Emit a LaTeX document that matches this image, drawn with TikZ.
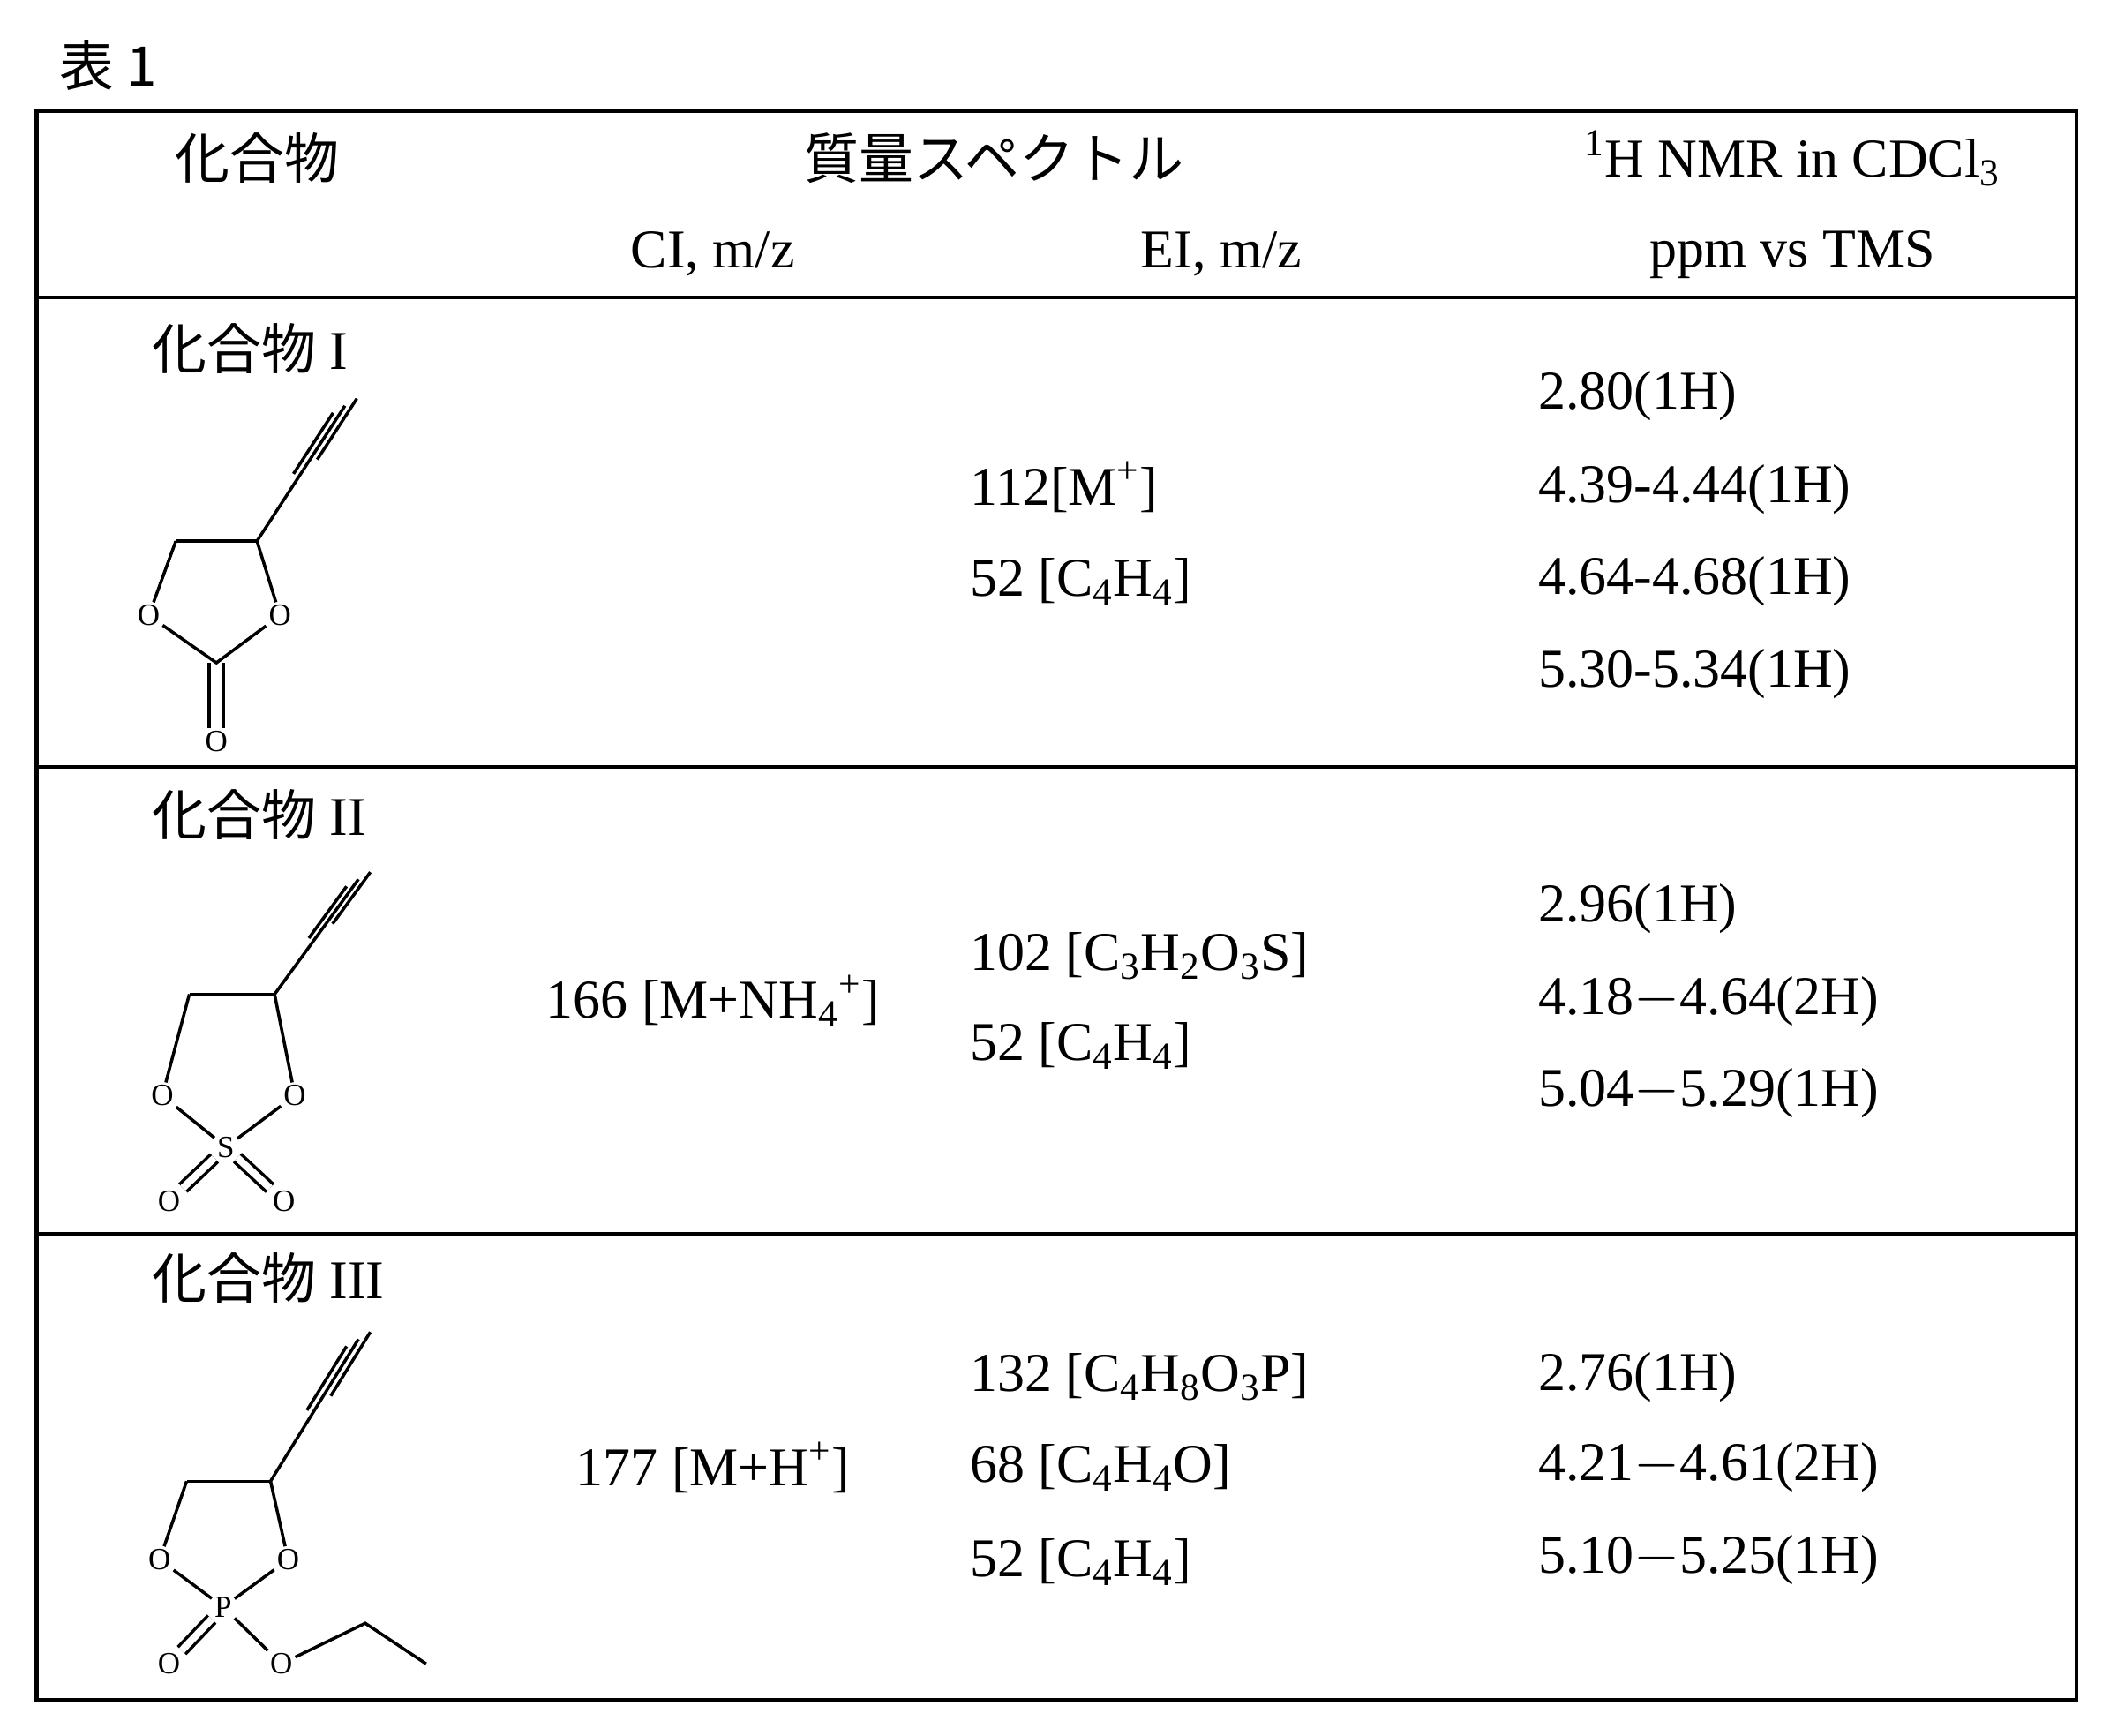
\documentclass[tikz,border=0pt]{standalone}
\usepackage{fontspec}
\setmainfont{Liberation Serif}
\newfontfamily\jp{Noto Sans CJK JP}
\usetikzlibrary{calc}
\begin{document}
\begin{tikzpicture}[x=0.02cm,y=-0.02cm,
  tx/.style={font=\fontsize{23}{27}\selectfont,inner sep=0pt},
  lt/.style={tx,anchor=west},
  atm/.style={font=\fontsize{13}{15}\selectfont,inner sep=1pt,fill=white},
  bd/.style={line width=1.3pt},
  grid/.style={line width=1.6pt}]
\useasboundingbox (0,0) rectangle (1560,1283);
\node[tx] (title) at (80,48) {\jp 表 1};
\draw[grid] (27,82) rectangle (1535,1257);
\draw[grid] (27,220) -- (1535,220);
\draw[grid] (27,567) -- (1535,567);
\draw[grid] (27,912) -- (1535,912);
% header
\node[tx] (h1) at (190,117) {\jp 化合物};
\node[tx] (h2) at (735,117) {\jp 質量スペクトル};
\node[tx] (h3) at (1325,117) {\textsuperscript{1}H NMR in CDCl\textsubscript{3}};
\node[tx] (h4) at (527,188) {CI, m/z};
\node[tx] (h5) at (903,188) {EI, m/z};
\node[tx] (h6) at (1325,188) {ppm vs TMS};
% row 1
\node[lt] (c1) at (112,258) {{\jp 化合物} I};
\node[lt] (e11) at (717,360) {112[M\textsuperscript{+}]};
\node[lt] (e12) at (717,430) {52 [C\textsubscript{4}H\textsubscript{4}]};
\node[lt] (n11) at (1137,293) {2.80(1H)};
\node[lt] (n12) at (1137,362) {4.39-4.44(1H)};
\node[lt] (n13) at (1137,430) {4.64-4.68(1H)};
\node[lt] (n14) at (1137,498) {5.30-5.34(1H)};
% row 2
\node[lt] (c2) at (112,602) {{\jp 化合物} II};
\node[tx] (ci2) at (527,740) {166 [M+NH\textsubscript{4}\textsuperscript{+}]};
\node[lt] (e21) at (717,707) {102 [C\textsubscript{3}H\textsubscript{2}O\textsubscript{3}S]};
\node[lt] (e22) at (717,773) {52 [C\textsubscript{4}H\textsubscript{4}]};
\node[lt] (n21) at (1137,672) {2.96(1H)};
\node[lt] (n22) at (1137,740) {4.18$-$4.64(2H)};
\node[lt] (n23) at (1137,808) {5.04$-$5.29(1H)};
% row 3
\node[lt] (c3) at (112,945) {{\jp 化合物} III};
\node[tx] (ci3) at (527,1085) {177 [M+H\textsuperscript{+}]};
\node[lt] (e31) at (717,1018) {132 [C\textsubscript{4}H\textsubscript{8}O\textsubscript{3}P]};
\node[lt] (e32) at (717,1085) {68 [C\textsubscript{4}H\textsubscript{4}O]};
\node[lt] (e33) at (717,1155) {52 [C\textsubscript{4}H\textsubscript{4}]};
\node[lt] (n31) at (1137,1018) {2.76(1H)};
\node[lt] (n32) at (1137,1085) {4.21$-$4.61(2H)};
\node[lt] (n33) at (1137,1153) {5.10$-$5.25(1H)};
% structure 1
\coordinate (a1) at (130,400); \coordinate (a2) at (190,400);
\node[atm] (ao1) at (110,455) {O}; \node[atm] (ao2) at (207,455) {O};
\coordinate (ac) at (160,490); \node[atm] (ao3) at (160,548) {O};
\coordinate (at1) at (255,300);
\draw[bd] (a1)--(a2); \draw[bd] (a1)--(ao1); \draw[bd] (a2)--(ao2);
\draw[bd] (ao1)--(ac)--(ao2);
\draw[bd] ([xshift=-3]ac)--([xshift=-3]ao3.north); \draw[bd] ([xshift=3]ac)--([xshift=3]ao3.north);
\draw[bd] (a2)--(at1);
\draw[bd] ([xshift=-5,yshift=-3]$(a2)!0.55!(at1)$)--([xshift=-5,yshift=-3]at1);
\draw[bd] ([xshift=5,yshift=3]$(a2)!0.55!(at1)$)--([xshift=5,yshift=3]at1);
% structure 2
\coordinate (b1) at (140,735); \coordinate (b2) at (203,735);
\node[atm] (bo1) at (120,810) {O}; \node[atm] (bo2) at (218,810) {O};
\node[atm] (bs) at (167,848) {S};
\node[atm] (bo3) at (125,888) {O}; \node[atm] (bo4) at (210,888) {O};
\coordinate (bt) at (265,650);
\draw[bd] (b1)--(b2); \draw[bd] (b1)--(bo1); \draw[bd] (b2)--(bo2);
\draw[bd] (bo1)--(bs)--(bo2);
\draw[bd,double,double distance=3pt] (bs)--(bo3);
\draw[bd,double,double distance=3pt] (bs)--(bo4);
\draw[bd] (b2)--(bt);
\draw[bd] ([xshift=-5,yshift=-3]$(b2)!0.55!(bt)$)--([xshift=-5,yshift=-3]bt);
\draw[bd] ([xshift=5,yshift=3]$(b2)!0.55!(bt)$)--([xshift=5,yshift=3]bt);
% structure 3
\coordinate (p1) at (138,1095); \coordinate (p2) at (200,1095);
\node[atm] (po1) at (118,1153) {O}; \node[atm] (po2) at (213,1153) {O};
\node[atm] (pp) at (165,1188) {P};
\node[atm] (po3) at (125,1230) {O}; \node[atm] (po4) at (208,1230) {O};
\coordinate (pe1) at (270,1200); \coordinate (pe2) at (315,1230);
\coordinate (pt) at (265,990);
\draw[bd] (p1)--(p2); \draw[bd] (p1)--(po1); \draw[bd] (p2)--(po2);
\draw[bd] (po1)--(pp)--(po2);
\draw[bd,double,double distance=3pt] (pp)--(po3);
\draw[bd] (pp)--(po4); \draw[bd] (po4)--(pe1)--(pe2);
\draw[bd] (p2)--(pt);
\draw[bd] ([xshift=-5,yshift=-3]$(p2)!0.55!(pt)$)--([xshift=-5,yshift=-3]pt);
\draw[bd] ([xshift=5,yshift=3]$(p2)!0.55!(pt)$)--([xshift=5,yshift=3]pt);
\end{tikzpicture}
\end{document}
